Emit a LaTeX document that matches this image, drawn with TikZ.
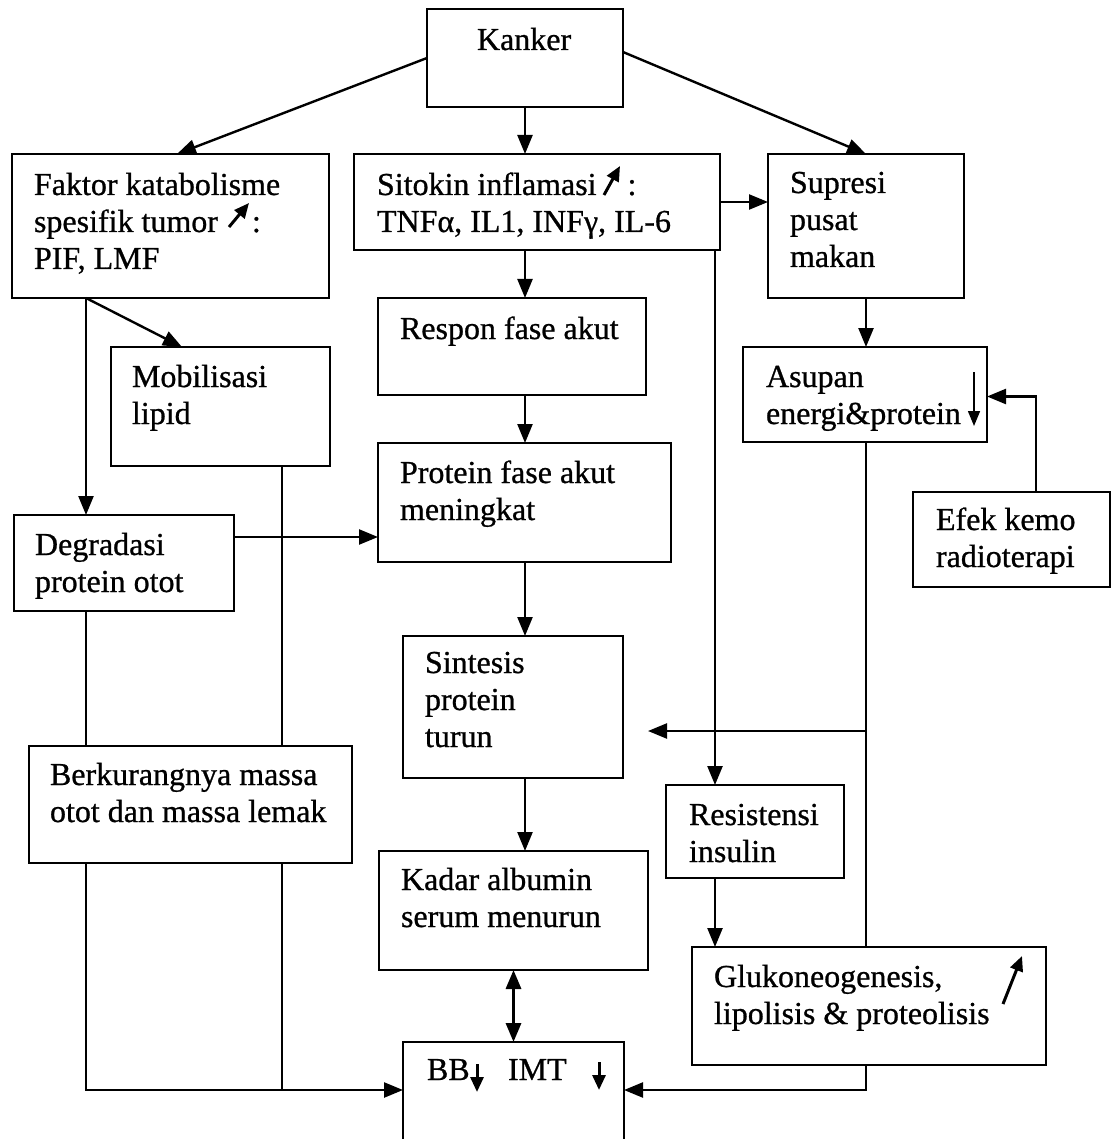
\documentclass[tikz,border=0pt]{standalone}
\usepackage{fontspec}
\setmainfont{Liberation Serif}[FakeBold=0.8]
\usetikzlibrary{arrows.meta}

% box from its corner coordinates: name, x1, y1, x2, y2 (y runs downwards)
\newcommand\mkbox[5]{\node[box, minimum width={(#4)-(#2)}, minimum height={(#5)-(#3)}] (#1) at ({((#2)+(#4))/2},{((#3)+(#5))/2}) {};}
% text block: name, left x, baseline of first line, text
\newcommand\mktext[4]{\node[txt] (#1) at (#2,{#3-25.9}) {\strut #4};}

\begin{document}
\begin{tikzpicture}[x=1pt,y=-1pt,
  box/.style={draw,line width=2.5pt,inner sep=0pt,outer sep=0pt},
  txt/.style={anchor=north west,inner sep=0pt,outer sep=0pt,align=left,font=\fontsize{32}{37}\selectfont},
  arr/.style={line width=2.4pt,-{Triangle[length=19pt,width=15pt]}},
  dbl/.style={line width=3.2pt,{Triangle[length=19pt,width=15pt]}-{Triangle[length=19pt,width=15pt]}},
  ln/.style={line width=2.4pt},
  mini/.style={line width=3pt,-{Triangle[length=15pt,width=13pt]}},
  thinmini/.style={line width=1.6pt,-{Triangle[length=15pt,width=12pt]}}]

\fill[white] (0,0) rectangle (1113,1139);
\useasboundingbox (0,0) rectangle (1113,1139);

% boxes
\mkbox{kanker}{427}{9}{623}{107}
\mkbox{faktor}{12}{154}{329}{298}
\mkbox{sitokin}{354}{154}{720}{250}
\mkbox{supresi}{768}{154}{964}{298}
\mkbox{respon}{378}{298}{646}{395}
\mkbox{mobil}{111}{347}{330}{466}
\mkbox{asupan}{743}{347}{987}{442}
\mkbox{protfa}{378}{443}{671}{562}
\mkbox{degrad}{14}{515}{234}{611}
\mkbox{efek}{913}{492}{1110}{587}
\mkbox{sintesis}{403}{636}{623}{778}
\mkbox{berkur}{29}{746}{352}{863}
\mkbox{resist}{666}{785}{844}{878}
\mkbox{kadar}{379}{851}{648}{970}
\mkbox{gluko}{692}{947}{1046}{1065}
\mkbox{bb}{403}{1042}{624}{1160}

% texts
\mktext{tKanker}{477}{50}{Kanker}
\mktext{tFaktor}{34}{195}{Faktor katabolisme\\spesifik tumor\hspace*{34pt}:\\PIF, LMF}
\mktext{tSitokin}{377}{195}{Sitokin inflamasi\hspace*{31pt}:\\TNFα, IL1, INFγ, IL-6}
\mktext{tSupresi}{790}{193}{Supresi\\pusat\\makan}
\mktext{tRespon}{400}{339}{Respon fase akut}
\mktext{tMobil}{132}{387}{Mobilisasi\\lipid}
\mktext{tAsupan}{766}{387}{Asupan\\energi\&protein}
\mktext{tProtfa}{400}{483}{Protein fase akut\\meningkat}
\mktext{tDegrad}{35}{555}{Degradasi\\protein otot}
\mktext{tEfek}{936}{530}{Efek kemo\\radioterapi}
\mktext{tSintesis}{425}{673}{Sintesis\\protein\\turun}
\mktext{tBerkur}{50}{785}{Berkurangnya massa\\otot dan massa lemak}
\mktext{tResist}{689}{825}{Resistensi\\insulin}
\mktext{tKadar}{401}{890}{Kadar albumin\\serum menurun}
\mktext{tGluko}{714}{987}{Glukoneogenesis,\\lipolisis \& proteolisis}
\mktext{tBB}{427}{1080}{BB}
\mktext{tIMT}{508}{1080}{IMT}

% small up/down marks inside the texts
\draw[mini] (229,227) -- (249,203);
\draw[mini] (604,195) -- (620,166);
\draw[thinmini] (974,372) -- (974,426);
\draw[mini] (1003,1004) -- (1022,956);
\draw[mini] (477,1064) -- (477,1092);
\draw[mini] (599,1062) -- (599,1090);

% helper points on box edges
\coordinate (fB) at ([xshift=74pt]faktor.south west);
\coordinate (mB) at ([xshift=171pt]mobil.south west);
\coordinate (jL) at ([yshift=-48pt]bb.north west);
\coordinate (jR) at ([yshift=-48pt]bb.north east);
\coordinate (eT) at ([xshift=24.5pt]efek.north);
\coordinate (sA) at ([xshift=25pt,yshift=-24pt]sintesis.east);
\coordinate (sR) at ([xshift=-5pt]sitokin.south east);

% connectors from Kanker
\draw[arr] (kanker.west) -- ([xshift=6.5pt]faktor.north);
\draw[arr] (kanker.south) -- (kanker.south |- sitokin.north);
\draw[arr] ([yshift=6pt]kanker.east) -- (supresi.north);
\draw[arr] (sitokin.east) -- (sitokin.east -| supresi.west);

% central column
\draw[arr] (kanker.south |- sitokin.south) -- (kanker.south |- respon.north);
\draw[arr] (kanker.south |- respon.south) -- (kanker.south |- protfa.north);
\draw[arr] (kanker.south |- protfa.south) -- (kanker.south |- sintesis.north);
\draw[arr] (kanker.south |- sintesis.south) -- (kanker.south |- kadar.north);
\draw[dbl] (kadar.south) -- (kadar.south |- bb.north);

% left column
\draw[arr] (fB) -- (fB |- degrad.north);
\draw[arr] (fB) -- ([xshift=-38.5pt]mobil.north);
\draw[arr] ([yshift=26pt]degrad.east) -- ([yshift=26pt]degrad.east -| protfa.west);
\draw[ln] (fB |- degrad.south) -- (fB |- berkur.north);
\draw[ln] (mB) -- (mB |- berkur.north);
\draw[arr] (fB |- berkur.south) |- (jL);
\draw[ln] (mB |- berkur.south) -- (mB |- jL);

% right column
\draw[arr] (supresi.south) -- (supresi.south |- asupan.north);
\draw[arr] (eT) |- ([yshift=-2pt]asupan.east);
\draw[ln] (supresi.south |- asupan.south) -- (supresi.south |- gluko.north);
\draw[arr] (supresi.south |- sA) -- (sA);
\draw[arr] (sR) -- (sR |- resist.north);
\draw[arr] (sR |- resist.south) -- (sR |- gluko.north);
\draw[arr] (supresi.south |- gluko.south) |- (jR);
\end{tikzpicture}
\end{document}
